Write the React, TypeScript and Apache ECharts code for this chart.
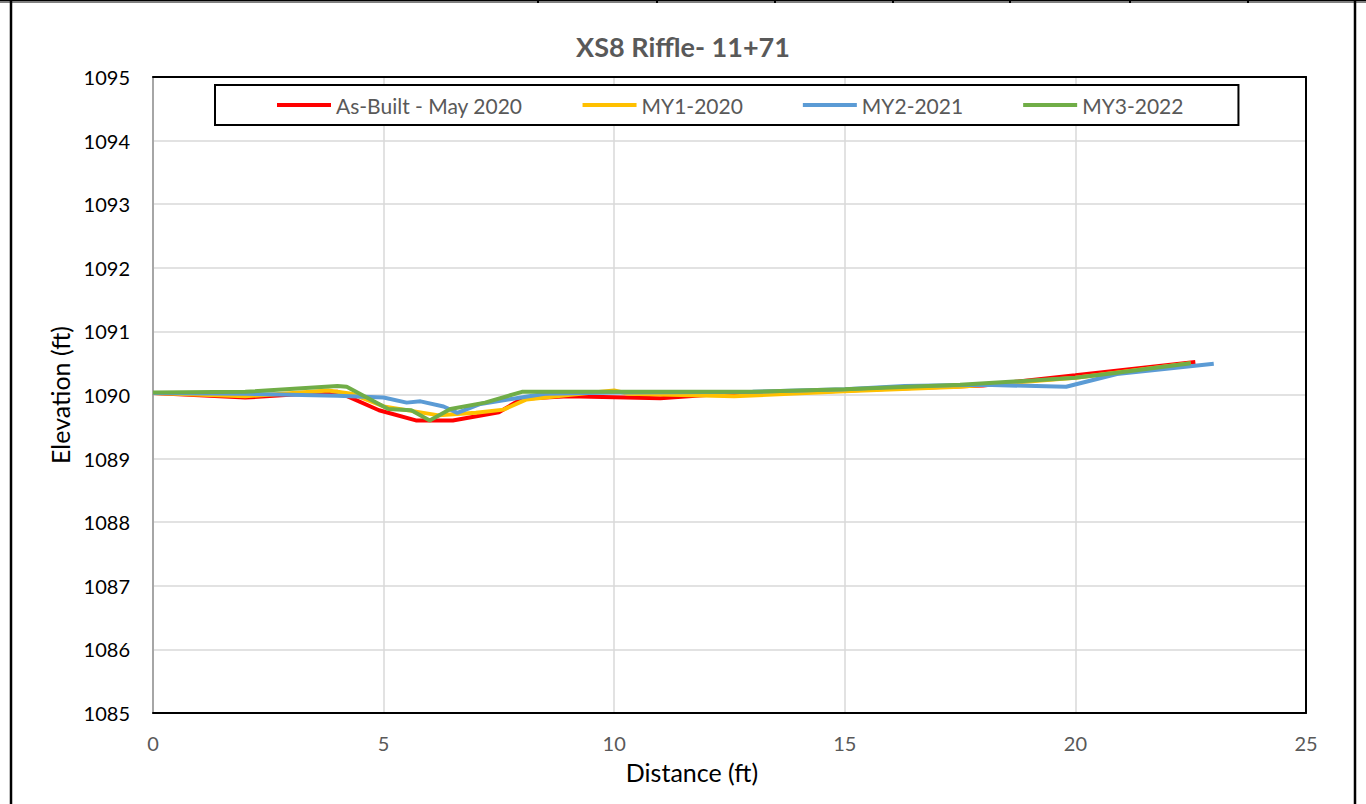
import React, { useEffect, useRef } from "react";
import * as echarts from "echarts";

const chartTitle = "XS8 Riffle- 11+71";
const seriesNames = ["As-Built - May 2020", "MY1-2020", "MY2-2021", "MY3-2022"];
const seriesColors = ["#FF0000", "#FFC000", "#5B9BD5", "#70AD47"];

const asBuiltX = [0, 2.0, 4.0, 4.9, 5.7, 6.5, 7.5, 8.0, 9.0, 11.0, 12.0, 14.0, 16.0, 18.0, 20.0, 22.6];
const asBuiltY = [1090.03, 1089.96, 1090.05, 1089.76, 1089.6, 1089.6, 1089.73, 1089.94, 1089.98, 1089.95, 1090.0, 1090.04, 1090.1, 1090.15, 1090.31, 1090.52];

const my1X = [0, 2.0, 3.8, 4.3, 5.0, 5.6, 6.2, 7.0, 7.6, 8.1, 9.0, 10.0, 10.3, 12.6, 15.0, 17.5, 20.0, 22.5];
const my1Y = [1090.03, 1089.98, 1090.07, 1090.02, 1089.82, 1089.75, 1089.68, 1089.72, 1089.77, 1089.93, 1090.0, 1090.07, 1090.02, 1089.98, 1090.06, 1090.13, 1090.27, 1090.5];

const my2X = [0, 2.0, 4.0, 5.0, 5.5, 5.8, 6.3, 6.6, 7.1, 7.7, 8.5, 10.0, 13.0, 15.0, 16.3, 18.0, 19.8, 20.9, 23.0];
const my2Y = [1090.03, 1090.02, 1089.99, 1089.96, 1089.88, 1089.9, 1089.82, 1089.72, 1089.86, 1089.93, 1090.02, 1090.04, 1090.05, 1090.09, 1090.14, 1090.16, 1090.13, 1090.33, 1090.49];

const my3X = [0, 2.0, 4.0, 4.2, 5.1, 5.6, 6.0, 6.45, 7.2, 8.0, 10.0, 13.0, 15.0, 17.5, 20.0, 20.9, 22.5];
const my3Y = [1090.04, 1090.05, 1090.14, 1090.13, 1089.78, 1089.76, 1089.6, 1089.78, 1089.88, 1090.05, 1090.05, 1090.05, 1090.09, 1090.16, 1090.27, 1090.35, 1090.5];

const xMin = 0;
const xMax = 25;
const xStep = 5;
const yMin = 1085;
const yMax = 1095;
const yStep = 1;

const topTicks = [538, 657, 775, 893, 1010, 1130, 1248];

const FONT = "Lato, 'Open Sans', sans-serif";

function pairs(xs: number[], ys: number[]) {
  return xs.map((x, i) => [x, ys[i]]);
}

export default function App() {
  const ref = useRef<HTMLDivElement>(null);
  useEffect(() => {
    document.body.style.margin = "0";
    if (!ref.current) return;
    const chart = echarts.init(ref.current, null, { renderer: "svg" });
    const allX = [asBuiltX, my1X, my2X, my3X];
    const allY = [asBuiltY, my1Y, my2Y, my3Y];
    chart.setOption({
      animation: false,
      backgroundColor: "#ffffff",
      textStyle: { fontFamily: FONT },
      title: {
        text: chartTitle,
        left: "center",
        top: 28,
        textStyle: { fontFamily: FONT, fontSize: 27, fontWeight: "bold", color: "#595959" },
      },
      legend: {
        data: seriesNames,
        left: 215,
        top: 85,
        padding: [8, 55, 8, 62],
        itemGap: 60,
        itemWidth: 54,
        itemHeight: 4,
        icon: "rect",
        borderColor: "#000000",
        borderWidth: 2,
        backgroundColor: "#ffffff",
        textStyle: { fontFamily: FONT, fontSize: 21, color: "#595959", lineHeight: 24 },
      },
      grid: { left: 153, right: 60, top: 77, bottom: 91, containLabel: false },
      xAxis: [
        {
          type: "value",
          min: xMin,
          max: xMax,
          interval: xStep,
          position: "bottom",
          name: "Distance (ft)",
          nameLocation: "middle",
          nameGap: 46,
          nameTextStyle: { fontFamily: FONT, fontSize: 25, color: "#000000", padding: [0, 75, 0, 0] },
          axisLine: { show: true, onZero: false, lineStyle: { color: "#000000", width: 2 } },
          axisTick: { show: false },
          axisLabel: { fontFamily: FONT, fontSize: 20, color: "#595959", margin: 20 },
          splitLine: { show: true, lineStyle: { color: "#d9d9d9", width: 1.5 } },
        },
        {
          type: "value",
          min: xMin,
          max: xMax,
          interval: xStep,
          position: "top",
          axisLine: { show: true, onZero: false, lineStyle: { color: "#000000", width: 2 } },
          axisTick: { show: false },
          axisLabel: { show: false },
          splitLine: { show: false },
        },
      ],
      yAxis: [
        {
          type: "value",
          min: yMin,
          max: yMax,
          interval: yStep,
          position: "left",
          name: "Elevation (ft)",
          nameLocation: "middle",
          nameRotate: 90,
          nameGap: 78,
          nameTextStyle: { fontFamily: FONT, fontSize: 25, color: "#000000" },
          axisLine: { show: true, onZero: false, lineStyle: { color: "#a6a6a6", width: 2 } },
          axisTick: { show: false },
          axisLabel: {
            fontFamily: FONT,
            fontSize: 20,
            color: "#000000",
            margin: 23,
            formatter: (v: number) => String(v),
          },
          splitLine: { show: true, lineStyle: { color: "#d9d9d9", width: 1.5 } },
        },
        {
          type: "value",
          min: yMin,
          max: yMax,
          interval: yStep,
          position: "right",
          axisLine: { show: true, onZero: false, lineStyle: { color: "#000000", width: 2 } },
          axisTick: { show: false },
          axisLabel: { show: false },
          splitLine: { show: false },
        },
      ],
      series: seriesNames.map((name, i) => ({
        name,
        type: "line",
        xAxisIndex: 0,
        yAxisIndex: 0,
        data: pairs(allX[i], allY[i]),
        symbol: "none",
        color: seriesColors[i],
        lineStyle: { color: seriesColors[i], width: 4 },
        z: 3 + i,
      })),
      graphic: [
        { type: "rect", shape: { x: 0, y: 0, width: 1366, height: 3 }, style: { fill: "#7f7f7f" }, z: 100 },
        { type: "line", shape: { x1: 0, y1: 0.5, x2: 1366, y2: 0.5 }, style: { stroke: "#000000", lineWidth: 1 }, z: 101 },
        ...topTicks.map((x) => ({
          type: "line",
          shape: { x1: x, y1: 0, x2: x, y2: 3 },
          style: { stroke: "#000000", lineWidth: 2 },
          z: 101,
        })),
        { type: "line", shape: { x1: 11, y1: 0, x2: 11, y2: 804 }, style: { stroke: "#000000", lineWidth: 2.5 }, z: 100 },
        { type: "line", shape: { x1: 1355, y1: 0, x2: 1355, y2: 804 }, style: { stroke: "#000000", lineWidth: 2.5 }, z: 100 },
      ],
    });
    return () => chart.dispose();
  }, []);
  return <div ref={ref} style={{ width: 1366, height: 804 }} />;
}
